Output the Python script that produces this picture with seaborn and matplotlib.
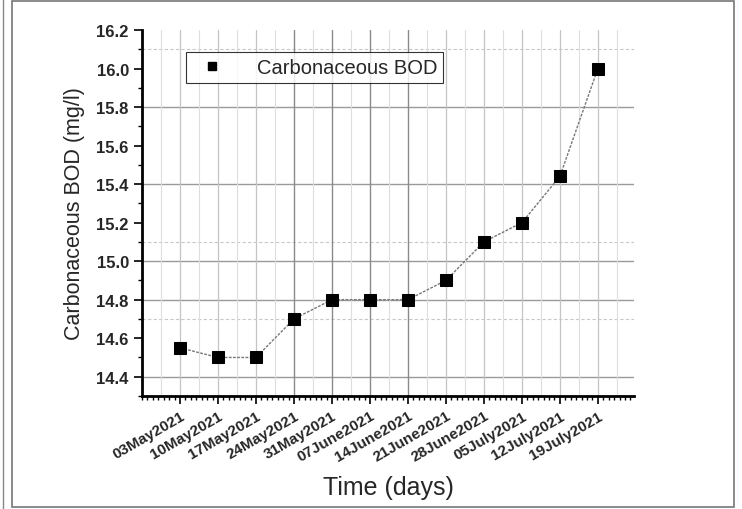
import matplotlib
matplotlib.use("Agg")
import matplotlib.pyplot as plt
import numpy as np
import seaborn as sns
from matplotlib.patches import Rectangle
from matplotlib.lines import Line2D
from matplotlib.ticker import MultipleLocator

dates = ["03May2021", "10May2021", "17May2021", "24May2021", "31May2021",
         "07June2021", "14June2021", "21June2021", "28June2021",
         "05July2021", "12July2021", "19July2021"]
bod = [14.55, 14.50, 14.50, 14.70, 14.80, 14.80, 14.80, 14.90, 15.10,
       15.20, 15.44, 16.00]

sns.set_style("white")
plt.rcParams["font.family"] = ["Liberation Sans", "DejaVu Sans"]

fig = plt.figure(figsize=(7.42, 5.10), dpi=100)
ax = fig.add_axes([0.1914, 0.2216, 0.663, 0.7176])

pos = np.arange(len(dates))

# grid (origin-style mix of solid and dotted lines)
for yv in [14.4, 14.8, 15.0, 15.4, 15.8]:
    ax.axhline(yv, color="#9a9a9a", lw=1.0, zorder=0)
for yv in [14.7, 15.1, 16.1]:
    ax.axhline(yv, color="#c8c8c8", lw=0.8, ls=(0, (3, 2)), zorder=0)
for xv in pos:
    dark = 3 <= xv <= 6
    ax.axvline(xv, color="#8a8a8a" if dark else "#c4c4c4",
               lw=1.0 if dark else 0.9, zorder=0)
for xv in np.arange(-0.5, 12, 1):
    ax.axvline(xv, color="#dedede", lw=0.8, zorder=0)

sns.lineplot(x=pos, y=bod, ax=ax, color="#777777", lw=1.0,
             linestyle=(0, (2, 1)), marker="s", markersize=8.5,
             markerfacecolor="black", markeredgecolor="black", zorder=3)

ax.set_xlim(-1, 11.95)
ax.set_ylim(14.3, 16.2)

ax.set_xticks(pos)
ax.set_xticklabels(dates, rotation=30, ha="right", rotation_mode="anchor",
                   fontsize=11, fontweight="bold")
ax.xaxis.set_minor_locator(MultipleLocator(1 / 7))
ax.yaxis.set_major_locator(MultipleLocator(0.2))
ax.yaxis.set_minor_locator(MultipleLocator(0.1))
for lab in ax.get_yticklabels():
    lab.set_fontweight("bold")
ax.tick_params(axis="y", which="major", labelsize=12, direction="out",
               length=6, width=1.2, left=True, color="black")
ax.tick_params(axis="y", which="minor", direction="out", length=3,
               width=1.0, left=True, color="black")
ax.tick_params(axis="x", which="major", direction="out", length=6,
               width=1.2, bottom=True, color="black", pad=3)
ax.tick_params(axis="x", which="minor", direction="out", length=3,
               width=1.0, bottom=True, color="black")

for side in ["top", "right"]:
    ax.spines[side].set_visible(False)
for side in ["left", "bottom"]:
    ax.spines[side].set_color("black")
    ax.spines[side].set_linewidth(2.0)

ax.set_xlabel("Time (days)", fontsize=18, labelpad=8)
ax.set_ylabel("Carbonaceous BOD (mg/l)", fontsize=15.5, labelpad=8)

handle = Line2D([], [], ls="none", marker="s", markersize=6, color="black")
leg = ax.legend([handle], ["Carbonaceous BOD"], loc="upper left",
                bbox_to_anchor=(0.09, 0.94), fontsize=14.5, frameon=True,
                fancybox=False, handletextpad=1.2, borderpad=0.3,
                borderaxespad=0, handlelength=2.0)
leg.get_frame().set_edgecolor("black")
leg.get_frame().set_linewidth(0.8)

# page frame around the figure
fig.patches.append(Rectangle((12 / 742, 2 / 510), 722 / 742, 506 / 510,
                             transform=fig.transFigure, fill=False,
                             edgecolor="#777777", lw=1.2))
fig.lines.append(Line2D([3 / 742, 3 / 742], [0, 1], transform=fig.transFigure,
                        color="#888888", lw=1.0))

fig.savefig("out.png", dpi=100)
